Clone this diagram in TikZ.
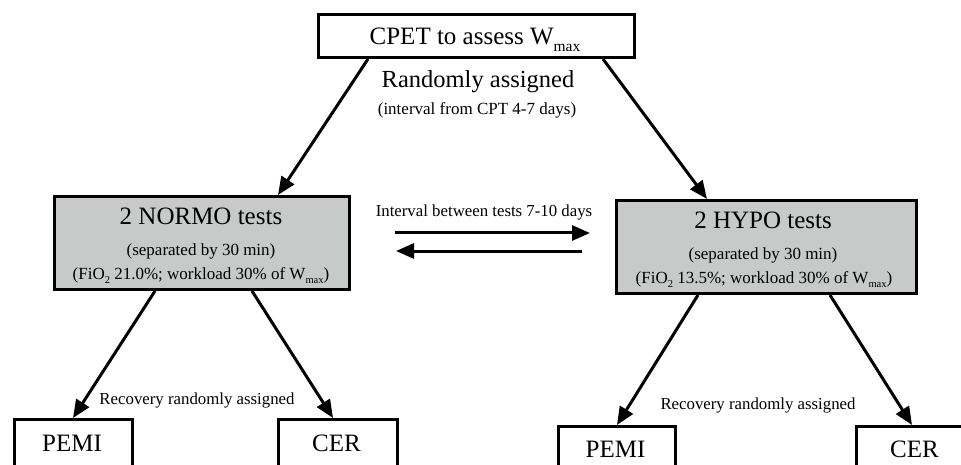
\documentclass[tikz,border=0pt]{standalone}
\usepackage{fontspec}
\setmainfont{Liberation Serif}
\usetikzlibrary{arrows.meta}
\definecolor{boxgray}{RGB}{200,201,201}
\newcommand{\fsz}[1]{\fontsize{#1}{#1}\selectfont}
\newcommand{\lowsub}[1]{\raisebox{-0.28em}{\scalebox{0.62}{#1}}}

\begin{document}
\begin{tikzpicture}[x=1pt,y=-1pt,
  box/.style={draw=black, line width=3pt, inner sep=0pt, anchor=north west},
  graybox/.style={box, fill=boxgray},
  arr/.style={line width=3pt, -{Triangle[length=18pt,width=15pt]}},
  txt/.style={anchor=base, inner sep=0pt},
  big/.style={txt, font=\fsz{25}},
  mid/.style={txt, font=\fsz{24.5}},
  note/.style={txt, font=\fsz{16.8}},
  small/.style={txt, font=\fsz{17}},
]
\path[use as bounding box] (0,0) rectangle (961,465);
\clip (0,0) rectangle (961,465);

% boxes
\node[box, minimum width=316pt, minimum height=43pt] (cpet) at (317,13) {};
\node[graybox, minimum width=295pt, minimum height=93pt] (normo) at (53,195) {};
\node[graybox, minimum width=300pt, minimum height=93pt] (hypo) at (615,199) {};
\node[box, minimum width=118pt, minimum height=48pt] (pemiL) at (13,418) {};
\node[box, minimum width=119pt, minimum height=48pt] (cerL) at (277,418) {};
\node[box, minimum width=117pt, minimum height=48pt] (pemiR) at (557,425) {};
\node[box, minimum width=119pt, minimum height=48pt] (cerR) at (855,425) {};

% box texts
\node[big] (cpetT) at (475,45) {CPET to assess W\lowsub{max}};
\node[big] (normoT1) at (201,225) {2 NORMO tests};
\node[small] (normoT2) at (201,255) {(separated by 30 min)};
\node[small] (normoT3) at (201,279) {(FiO\lowsub{2} 21.0\%; workload 30\% of W\lowsub{max})};
\node[big] (hypoT1) at (763,229) {2 HYPO tests};
\node[small] (hypoT2) at (763,259) {(separated by 30 min)};
\node[small] (hypoT3) at (764,283) {(FiO\lowsub{2} 13.5\%; workload 30\% of W\lowsub{max})};
\node[big] (pemiLT) at (72,451) {PEMI};
\node[big] (cerLT) at (336.5,451) {CER};
\node[big] (pemiRT) at (615.5,457) {PEMI};
\node[big] (cerRT) at (914.5,457) {CER};

% free labels
\node[mid] (rand) at (478,88) {Randomly assigned};
\node[small] (randN) at (477,115) {(interval from CPT 4-7 days)};
\node[note] (intv) at (484,217) {Interval between tests 7-10 days};
\node[note] (recL) at (197,404) {Recovery randomly assigned};
\node[note] (recR) at (758,409) {Recovery randomly assigned};

% connectors
\draw[arr] ([xshift=51pt]cpet.south west) -- ([xshift=225pt]normo.north west);
\draw[arr] ([xshift=-33pt]cpet.south east) -- ([xshift=92pt]hypo.north west);

\coordinate (goA) at (395,233);
\coordinate (goB) at (590,233);
\coordinate (backA) at (582,251);
\coordinate (backB) at (396,251);
\draw[arr] (goA) -- (goB);
\draw[arr] (backA) -- (backB);

\draw[arr] ([xshift=102pt]normo.south west) -- ([xshift=60pt]pemiL.north west);
\draw[arr] ([xshift=199pt]normo.south west) -- ([xshift=56pt]cerL.north west);
\draw[arr] ([xshift=83pt]hypo.south west) -- ([xshift=60pt]pemiR.north west);
\draw[arr] ([xshift=215pt]hypo.south west) -- ([xshift=57pt]cerR.north west);
\end{tikzpicture}
\end{document}
